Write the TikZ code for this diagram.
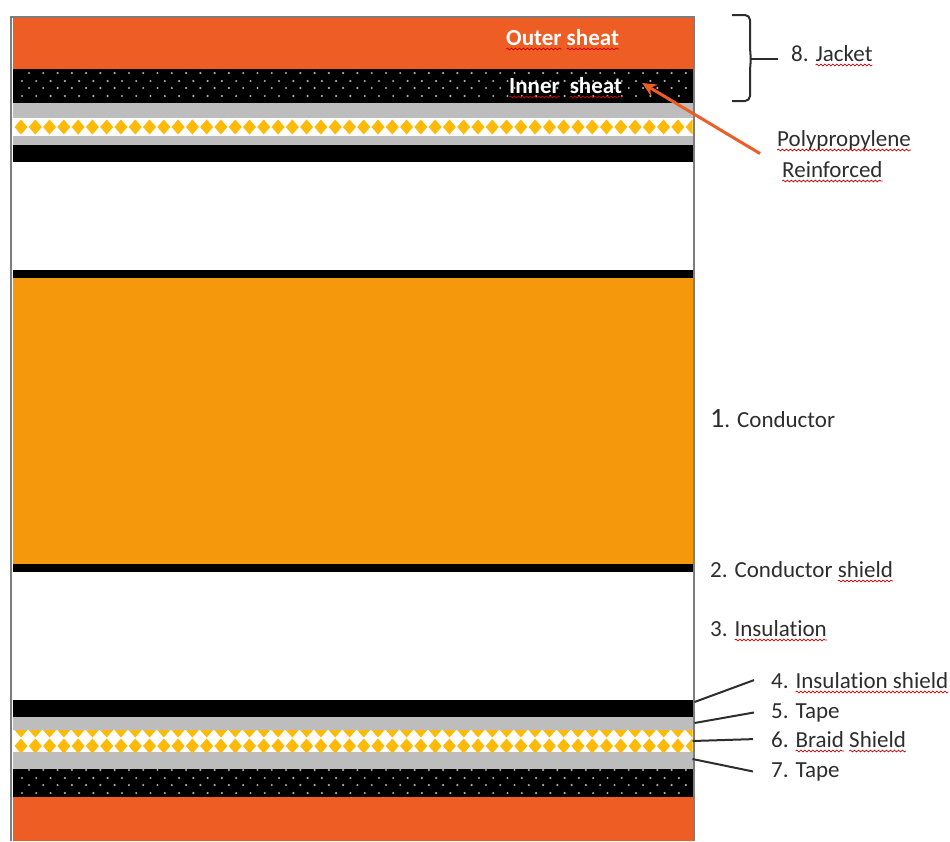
\documentclass[tikz,border=0pt]{standalone}
\usepackage{fontspec}
\setmainfont[Ligatures=NoCommon]{Carlito}
\usetikzlibrary{arrows.meta, positioning, calc, decorations.pathmorphing}
\definecolor{SheathOrange}{RGB}{238, 94, 36}
\definecolor{CopperOrange}{RGB}{246, 152, 12}
\definecolor{TapeGrey}{RGB}{189, 189, 189}
\definecolor{BraidYellow}{RGB}{255, 186, 8}
\definecolor{FrameGrey}{RGB}{125, 125, 125}
\definecolor{InkGrey}{RGB}{45, 45, 45}
\newcommand{\wavy}[1]{\tikz[baseline=(w.base)]{\node[inner sep=0pt, outer sep=0pt] (w) {#1};
    \draw[overlay, red!80!black, line width=0.7pt, decorate, decoration={snake, amplitude=0.9pt, segment length=4pt}] ([yshift=-4pt]w.base -| w.west) -- ([yshift=-4pt]w.base -| w.east);}}
\begin{document}
\begin{tikzpicture}[
    x=1pt, y=1pt,
    layer/.style={minimum width=680pt, inner sep=0pt, outer sep=0pt, below=0pt of #1},
    firstlayer/.style={minimum width=680pt, inner sep=0pt, outer sep=0pt, anchor=north west},
    caption/.style={inner sep=0pt, anchor=base west, text=InkGrey, font=\fontsize{23}{31}\selectfont},
    sheath/.style={inner sep=0pt, anchor=base west, text=white, font=\fontsize{23}{26}\selectfont\bfseries},
    leader/.style={line width=2pt, InkGrey},
    pointer/.style={-{Stealth[length=14pt, width=13pt]}, line width=3pt, SheathOrange},
    speck/.style={fill=gray!65, inner sep=0pt, minimum size=2.4pt, circle},
    rhomb/.style={fill=BraidYellow}
  ]
  \useasboundingbox (0,0) rectangle (950,-841);
  % cable layers, top to bottom
  \node[firstlayer, fill=SheathOrange, minimum height=52pt] (outerTop) at (12.5,-17) {};
  \node[layer=outerTop, fill=black, minimum height=34pt] (innerTop) {};
  \node[layer=innerTop, fill=TapeGrey, minimum height=14.5pt] (tapeTop) {};
  \node[layer=tapeTop, fill=white, minimum height=18pt] (braidTop) {};
  \node[layer=braidTop, fill=TapeGrey, minimum height=9.5pt] (tapeTopB) {};
  \node[layer=tapeTopB, fill=black, minimum height=17pt] (shieldTop) {};
  \node[layer=shieldTop, fill=white, minimum height=108pt] (insulationTop) {};
  \node[layer=insulationTop, fill=black, minimum height=8pt] (condShieldTop) {};
  \node[layer=condShieldTop, fill=CopperOrange, minimum height=286pt] (conductor) {};
  \node[layer=conductor, fill=black, minimum height=8pt] (condShield) {};
  \node[layer=condShield, fill=white, minimum height=128pt] (insulation) {};
  \node[layer=insulation, fill=black, minimum height=17pt] (insShield) {};
  \node[layer=insShield, fill=TapeGrey, minimum height=13pt] (tapeFive) {};
  \node[layer=tapeFive, fill=white, minimum height=22pt] (braidSix) {};
  \node[layer=braidSix, fill=TapeGrey, minimum height=17pt] (tapeSeven) {};
  \node[layer=tapeSeven, fill=black, minimum height=28pt] (innerBottom) {};
  \node[layer=innerBottom, fill=SheathOrange, minimum height=44pt] (outerBottom) {};

  % dots of the inner sheaths
  \foreach \i in {0,...,46} {
    \foreach \yy in {73,88} {
      \node[speck] (dotA\i\yy) at (29+14.28*\i,-\yy) {};
    }
    \foreach \yy in {81,96} {
      \node[speck] (dotB\i\yy) at (22+14.28*\i,-\yy) {};
    }
    \foreach \yy in {770,785} {
      \node[speck] (dotC\i\yy) at (29+14.28*\i,-\yy) {};
    }
    \foreach \yy in {778,793} {
      \node[speck] (dotD\i\yy) at (22+14.28*\i,-\yy) {};
    }
  }

  % braid diamonds
  \begin{scope}
    \clip (braidTop.south west) rectangle (braidTop.north east);
    \foreach \i in {0,...,47} {
      \fill[rhomb] (21+14.28*\i,-127) +(-6.5,0) -- +(0,7.5) -- +(6.5,0) -- +(0,-7.5) -- cycle;
    }
  \end{scope}
  \begin{scope}
    \clip (braidSix.south west) rectangle (braidSix.north east);
    \foreach \i in {0,...,47} {
      \foreach \yy in {730,746} {
        \fill[rhomb] (21+14.28*\i,-\yy) +(-6.5,0) -- +(0,7.5) -- +(6.5,0) -- +(0,-7.5) -- cycle;
      }
    }
  \end{scope}

  % frame, open at the bottom
  \draw[FrameGrey, line width=1.6pt] (11,-841) -- (11,-17) -- (694,-17) -- (694,-841);

  % sheath names
  \node[sheath] (outerLabel) at (506,-45) {\wavy{Outer} \wavy{sheat}};
  \node[sheath] (innerLabel) at (509,-93) {\wavy{Inner}\hspace{10pt}\wavy{sheat}};

  % captions
  \node[caption] (jacketLabel) at (791,-61) {8. \wavy{Jacket}};
  \node[caption, align=left] (polyLabel) at (777,-177) {\wavy{Polypropylene}\\\hspace*{5pt}\wavy{Reinforced}};
  \node[caption] (condLabel) at (710,-427) {{\fontsize{28}{31}\selectfont 1}. Conductor};
  \node[caption] (shieldLabel) at (710,-577) {2. Conductor \wavy{shield}};
  \node[caption] (insulLabel) at (710,-636) {3. \wavy{Insulation}};
  \node[caption] (fourLabel) at (771,-688) {4. \wavy{Insulation shield}};
  \node[caption] (fiveLabel) at (771,-718) {5. Tape};
  \node[caption] (sixLabel) at (771,-747) {6. \wavy{Braid} \wavy{Shield}};
  \node[caption] (sevenLabel) at (771,-777) {7. Tape};

  % leaders
  \coordinate (tapeSevenEdge) at ($(tapeSeven.north east)+(0,-7)$);
  \draw[leader] ($(insShield.north east)+(2,-2)$) -- ([xshift=-17pt]fourLabel.west);
  \draw[leader] ($(tapeFive.north east)+(2,-6)$) -- ([xshift=-17pt]fiveLabel.west);
  \draw[leader] (braidSix.east) -- ([xshift=-18pt]sixLabel.west);
  \draw[leader] (tapeSevenEdge) -- ([xshift=-18pt]sevenLabel.west);

  % jacket bracket
  \coordinate (braceMid) at (751,-59);
  \draw[leader, rounded corners=5pt] (732,-15) -- (750,-15) -- (750,-50) -- (braceMid) -- (750,-68) -- (750,-101) -- (732,-101);
  \draw[leader] (braceMid) -- ([xshift=-13pt]jacketLabel.west |- braceMid);

  % polypropylene pointer
  \draw[pointer] ([xshift=-17pt,yshift=0pt]polyLabel.west) -- ([xshift=20pt,yshift=2pt]innerLabel.east);
\end{tikzpicture}
\end{document}
